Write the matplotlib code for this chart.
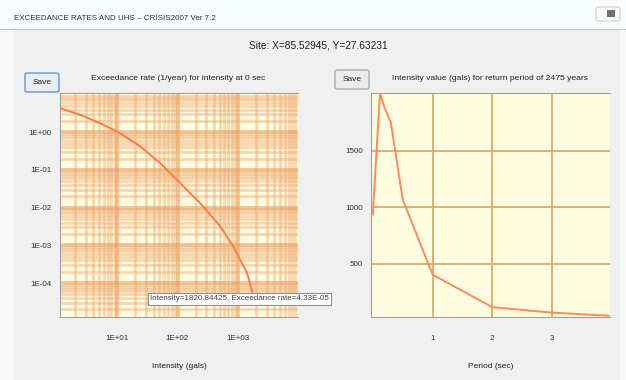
import numpy as np
import matplotlib.pyplot as plt
from matplotlib.patches import FancyBboxPatch, Rectangle
from matplotlib.ticker import LogLocator, FixedLocator, NullFormatter

# hazard curve (left panel)
intensity = [1.14, 2.43, 5.2, 11.2, 24.1, 51.6, 111, 238, 510, 839, 1432, 1820.84]
exc_rate = [4.33, 2.88, 1.73, 0.94, 0.418, 0.151, 0.0444, 0.0131, 3.21e-3, 9.46e-4, 1.82e-4, 4.33e-5]
x_ticks = [10, 100, 1000]
x_labels = ["1E+01", "1E+02", "1E+03"]
y_ticks = [1, 0.1, 0.01, 0.001, 0.0001]
y_labels = ["1E+00", "1E-01", "1E-02", "1E-03", "1E-04"]

# uniform hazard spectrum (right panel)
period = [0, 0.12, 0.2, 0.3, 0.5, 1, 2, 3, 4]
uhs = [937, 2010, 1880, 1756, 1071, 402, 113, 65, 36]
p_ticks = [1, 2, 3]
u_ticks = [500, 1000, 1500]

W, H = 626, 380
fig = plt.figure(figsize=(W / 100, H / 100), dpi=100)
fig.patch.set_facecolor("#f0f0f0")
plt.rcParams['font.family'] = ['Liberation Sans', 'DejaVu Sans']


def ax_px(x0, y0, x1, y1):
    # pixel box (top-left origin) -> axes
    return fig.add_axes([x0 / W, 1 - y1 / H, (x1 - x0) / W, (y1 - y0) / H])


def fx(x):
    return x / W


def fy(y):
    return 1 - y / H


# window chrome
fig.add_artist(Rectangle((0, fy(29)), 1, 29 / H, transform=fig.transFigure,
                         facecolor="#f7fdff", edgecolor="none"))
fig.add_artist(Rectangle((0, fy(30)), 1, 1.5 / H, transform=fig.transFigure,
                         facecolor="#b9c6d0", edgecolor="none"))
fig.add_artist(Rectangle((0, 0), fx(14), fy(30), transform=fig.transFigure,
                         facecolor="#f8f8f8", edgecolor="none"))
fig.add_artist(Rectangle((fx(620), 0), fx(6), fy(30), transform=fig.transFigure,
                         facecolor="#f8f8f8", edgecolor="none"))
fig.text(fx(14), fy(18), "EXCEEDANCE RATES AND UHS \u2013 CRISIS2007 Ver 7.2",
         fontsize=5.8, color="#303030", va="center")
fig.add_artist(FancyBboxPatch((fx(596), fy(21)), fx(24), 14 / H, transform=fig.transFigure,
                              boxstyle="round,pad=0,rounding_size=0.004",
                              facecolor="#fafafa", edgecolor="#d0d0d0", lw=0.8))
fig.add_artist(Rectangle((fx(607), fy(17)), fx(8), 7 / H, transform=fig.transFigure,
                         facecolor="#707070", edgecolor="none"))
fig.text(fx(318), fy(45), "Site: X=85.52945, Y=27.63231", fontsize=7.3,
         color="#202020", ha="center", va="center")


def button(x0, y0, x1, y1, edge):
    fig.add_artist(FancyBboxPatch((fx(x0), fy(y1)), fx(x1 - x0), (y1 - y0) / H,
                                  transform=fig.transFigure,
                                  boxstyle="round,pad=0,rounding_size=0.004",
                                  facecolor="#ececec", edgecolor=edge, lw=1))
    fig.text(fx((x0 + x1) / 2), fy((y0 + y1) / 2), "Save", fontsize=6,
             ha="center", va="center", color="#202020")


button(25, 73, 59, 92, "#5a9ad0")
button(335, 70, 369, 89, "#acacac")

tick_kw = dict(labelsize=5.8, labelcolor="#303030", length=0, pad=6)

# left panel
ax1 = ax_px(60, 93, 298, 317)
ax1.set_facecolor("#fffbe0")
ax1.set_xscale("log")
ax1.set_yscale("log")
ax1.set_xlim(1.12, 1e4)
ax1.set_ylim(10 ** -4.9, 10 ** 1.04)
ax1.xaxis.set_minor_locator(LogLocator(base=10, subs=np.arange(2, 10), numticks=20))
ax1.yaxis.set_minor_locator(LogLocator(base=10, subs=np.arange(2, 10), numticks=20))
ax1.xaxis.set_minor_formatter(NullFormatter())
ax1.yaxis.set_minor_formatter(NullFormatter())
ax1.grid(True, which="minor", color="#eeaa70", lw=1.9, alpha=0.45)
ax1.grid(True, which="major", color="#e59c5c", lw=2.6, alpha=0.6)
ax1.set_xticks(x_ticks, x_labels)
ax1.set_yticks(y_ticks, y_labels)
ax1.tick_params(which="both", **tick_kw)
ax1.tick_params(axis="x", pad=13)
ax1.plot(intensity, exc_rate, color="#ff7a45", lw=1.4, zorder=3)
for s in ax1.spines.values():
    s.set_color("#a0a0a0")
    s.set_linewidth(0.8)
ax1.spines["right"].set_visible(False)
ax1.set_xlabel("Intensity (gals)", fontsize=6, color="#202020", labelpad=15)
fig.text(fx(178), fy(79), "Exceedance rate (1/year) for intensity at 0 sec",
         fontsize=6.1, ha="center", va="center", color="#202020")

# right panel
ax2 = ax_px(371, 93, 610, 317)
ax2.set_facecolor("#fffde0")
ax2.set_xlim(-0.03, 3.97)
ax2.set_ylim(min(uhs) - 10, max(uhs) + 5)
ax2.xaxis.set_major_locator(FixedLocator(p_ticks))
ax2.yaxis.set_major_locator(FixedLocator(u_ticks))
ax2.grid(True, color="#e2a468", lw=1.4, alpha=0.9)
ax2.tick_params(**tick_kw)
ax2.tick_params(axis="x", pad=13)
ax2.plot(period, uhs, color="#ff8a5c", lw=1.4, zorder=3)
for s in ax2.spines.values():
    s.set_color("#a0a0a0")
    s.set_linewidth(0.8)
ax2.spines["right"].set_visible(False)
ax2.set_xlabel("Period (sec)", fontsize=6, color="#202020", labelpad=15)
fig.text(fx(490), fy(78), "Intensity value (gals) for return period of 2475 years",
         fontsize=6.1, ha="center", va="center", color="#202020")

# tooltip
fig.text(fx(150), fy(299), "Intensity=1820.84425, Exceedance rate=4.33E-05",
         fontsize=5.8, color="#404040", va="center", ha="left", zorder=10,
         bbox=dict(boxstyle="square,pad=0.25", facecolor="white",
                   edgecolor="#909090", lw=0.8))

fig.savefig("out.png", dpi=100, facecolor=fig.get_facecolor())
